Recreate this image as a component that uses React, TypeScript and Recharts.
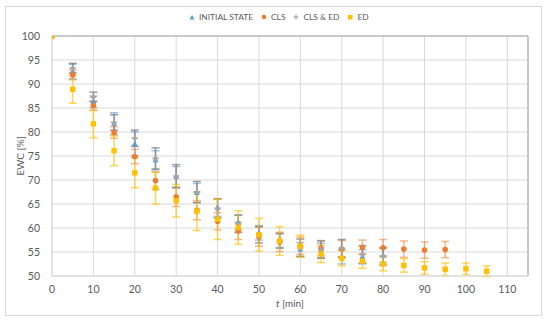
import React from "react";
import {
  ComposedChart,
  Scatter,
  XAxis,
  YAxis,
  CartesianGrid,
  ErrorBar,
  ReferenceLine,
} from "recharts";

const times = [0, 5, 10, 15, 20, 25, 30, 35, 40, 45, 50, 55, 60, 65, 70, 75, 80, 85, 90, 95, 100, 105];
const xTicks = [0, 10, 20, 30, 40, 50, 60, 70, 80, 90, 100, 110];
const yTicks = [50, 55, 60, 65, 70, 75, 80, 85, 90, 95, 100];

const initialState = [100, 92.6, 86.3, 81.7, 77.5, 74.1, 70.6, 67.3, 64.2, 61.2, 59.0, 57.4, 55.5, 55.3, 54.0, 54.0, 54.3];
const initialErr = [0, 1.5, 1.2, 2.3, 2.5, 2.0, 2.2, 2.0, 1.8, 1.5, 1.5, 1.5, 1.5, 1.5, 1.5, 1.5, 1.5];
const cls = [100, 91.9, 85.5, 79.9, 74.9, 69.9, 66.5, 63.7, 61.4, 59.4, 58.2, 57.1, 56.3, 55.8, 55.6, 56.0, 55.9, 55.6, 55.4, 55.5];
const clsErr = [0, 1.0, 1.0, 1.2, 1.5, 1.8, 2.0, 2.0, 1.8, 1.8, 2.0, 2.0, 1.8, 1.6, 1.8, 1.5, 1.7, 1.7, 1.7, 1.7];
const clsEd = [100, 93.3, 87.3, 82.0, 78.7, 74.5, 70.8, 67.5, 64.1, 60.9, 58.6, 57.3, 55.9, 55.5, 55.8, 54.5, 54.1];
const clsEdErr = [0, 1.0, 1.0, 1.6, 1.7, 2.2, 2.4, 2.2, 2.0, 1.8, 1.7, 1.5, 1.8, 1.8, 1.8, 1.8, 1.8];
const ed = [100, 88.9, 81.7, 76.1, 71.5, 68.3, 65.7, 63.5, 61.8, 60.1, 58.6, 57.3, 56.2, 54.6, 53.7, 53.1, 52.5, 52.2, 51.7, 51.4, 51.5, 51.0];
const edErr = [0, 2.9, 2.9, 3.1, 3.1, 3.3, 3.4, 4.0, 4.2, 3.5, 3.4, 3.0, 2.3, 1.8, 1.6, 1.5, 1.4, 1.4, 1.3, 1.3, 1.2, 1.1];

const toPoints = (vals: number[], errs: number[]) =>
  vals.map((v, i) => ({ t: times[i], v, e: errs[i] }));

const BLUE = "#5B9BD5";
const ORANGE = "#ED7D31";
const GRAY = "#A5A5A5";
const YELLOW = "#FFC000";
const FONT = "Lato, 'Open Sans', sans-serif";
const TEXT = "#595959";

const Triangle = (p: any) => (
  <path d={`M${p.cx},${p.cy - 3} L${p.cx + 3},${p.cy + 2} L${p.cx - 3},${p.cy + 2} Z`} fill={BLUE} />
);
const Dot = (p: any) => <circle cx={p.cx} cy={p.cy} r={2.8} fill={ORANGE} />;
const Plus = (p: any) => (
  <g stroke={GRAY} strokeWidth={2}>
    <line x1={p.cx - 3} y1={p.cy} x2={p.cx + 3} y2={p.cy} />
    <line x1={p.cx} y1={p.cy - 3} x2={p.cx} y2={p.cy + 3} />
  </g>
);
const Square = (p: any) => <rect x={p.cx - 2.7} y={p.cy - 2.7} width={5.4} height={5.4} fill={YELLOW} />;

const legendItems = [
  { name: "INITIAL STATE", mark: <path d="M3,1 L5.5,5.5 L0.5,5.5 Z" fill={BLUE} /> },
  { name: "CLS", mark: <circle cx={3} cy={3} r={2.3} fill={ORANGE} /> },
  {
    name: "CLS & ED",
    mark: (
      <g stroke={GRAY} strokeWidth={1.2}>
        <line x1={0.5} y1={3} x2={5.5} y2={3} />
        <line x1={3} y1={0.5} x2={3} y2={5.5} />
      </g>
    ),
  },
  { name: "ED", mark: <rect x={1} y={1} width={4.5} height={4.5} fill={YELLOW} /> },
];

const App = () => {
  return (
    <div style={{ position: "absolute", left: 0, top: 0, width: 550, height: 323, background: "#fff", fontFamily: FONT }}>
      <div
        style={{
          position: "absolute",
          left: 5,
          top: 6,
          width: 537,
          height: 310,
          border: "1px solid #d9d9d9",
          boxSizing: "border-box",
        }}
      />
      <div
        style={{
          position: "absolute",
          top: 12,
          left: 189,
          display: "flex",
          gap: 8,
          fontSize: 8.4,
          color: TEXT,
          whiteSpace: "nowrap",
        }}
      >
        {legendItems.map((it) => (
          <div key={it.name} style={{ display: "flex", alignItems: "center", gap: 4 }}>
            <svg width={6} height={6}>{it.mark}</svg>
            <span>{it.name}</span>
          </div>
        ))}
      </div>
      <div
        style={{
          position: "absolute",
          left: 20,
          top: 156,
          transform: "translate(-50%, -50%) rotate(-90deg)",
          fontSize: 10,
          color: TEXT,
          whiteSpace: "nowrap",
        }}
      >
        EWC [%]
      </div>
      <div
        style={{
          position: "absolute",
          left: 290,
          top: 303,
          transform: "translate(-50%, -50%)",
          fontSize: 10,
          color: TEXT,
          whiteSpace: "nowrap",
        }}
      >
        <i>t</i> [min]
      </div>
      <ComposedChart
        width={550}
        height={323}
        margin={{ top: 36, right: 22, left: 0, bottom: 27 }}
        style={{ position: "absolute", left: 0, top: 0 }}
      >
        <CartesianGrid stroke="#d9d9d9" />
        <XAxis
          type="number"
          dataKey="t"
          domain={[0, 115]}
          ticks={xTicks}
          allowDataOverflow
          height={20}
          axisLine={{ stroke: "#d9d9d9" }}
          tickLine={false}
          tick={{ fill: TEXT, fontSize: 10.5, fontFamily: FONT }}
          tickMargin={4}
        />
        <YAxis
          type="number"
          dataKey="v"
          domain={[50, 100]}
          ticks={yTicks}
          allowDataOverflow
          width={52}
          axisLine={{ stroke: "#d9d9d9" }}
          tickLine={false}
          tick={{ fill: TEXT, fontSize: 10.5, fontFamily: FONT }}
          tickMargin={6}
        />
        <ReferenceLine y={100} stroke="#a6a6a6" />
        <ReferenceLine x={115} stroke="#a6a6a6" />
        <Scatter name="INITIAL STATE" data={toPoints(initialState, initialErr)} shape={Triangle} isAnimationActive={false}>
          <ErrorBar dataKey="e" direction="y" width={4} stroke={BLUE} strokeOpacity={0.6} />
        </Scatter>
        <Scatter name="CLS" data={toPoints(cls, clsErr)} shape={Dot} isAnimationActive={false}>
          <ErrorBar dataKey="e" direction="y" width={4} stroke={ORANGE} strokeOpacity={0.55} />
        </Scatter>
        <Scatter name="CLS & ED" data={toPoints(clsEd, clsEdErr)} shape={Plus} isAnimationActive={false}>
          <ErrorBar dataKey="e" direction="y" width={4} stroke="#7f7f7f" strokeOpacity={0.75} />
        </Scatter>
        <Scatter name="ED" data={toPoints(ed, edErr)} shape={Square} isAnimationActive={false}>
          <ErrorBar dataKey="e" direction="y" width={4} stroke={YELLOW} strokeOpacity={0.65} />
        </Scatter>
      </ComposedChart>
    </div>
  );
};

export default App;
